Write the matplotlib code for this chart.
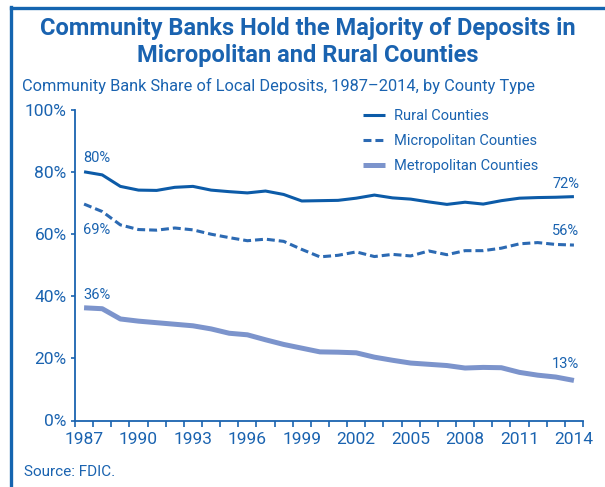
import matplotlib
matplotlib.use("Agg")
import matplotlib.pyplot as plt
from matplotlib import font_manager
from matplotlib.lines import Line2D

names = {f.name for f in font_manager.fontManager.ttflist}
FONT = [f for f in ["Liberation Sans Narrow", "Roboto", "DejaVu Sans"] if f in names]
plt.rcParams["font.family"] = FONT

years = list(range(1987, 2015))
rural = [80.1, 79.1, 75.4, 74.2, 74.1, 75.1, 75.4, 74.2, 73.7, 73.3, 73.9, 72.8, 70.7,
         70.8, 70.9, 71.6, 72.6, 71.7, 71.3, 70.4, 69.6, 70.3, 69.7, 70.8, 71.6, 71.8,
         71.9, 72.1]
micro = [69.7, 67.3, 63.0, 61.5, 61.3, 62.0, 61.4, 60.0, 58.9, 57.9, 58.4, 57.7, 55.1,
         52.7, 53.2, 54.3, 52.8, 53.5, 53.0, 54.6, 53.4, 54.7, 54.7, 55.5, 56.9, 57.3,
         56.7, 56.5]
metro = [36.3, 36.0, 32.7, 32.0, 31.5, 31.0, 30.5, 29.5, 28.1, 27.6, 26.0, 24.5, 23.3,
         22.1, 22.0, 21.8, 20.4, 19.4, 18.5, 18.1, 17.7, 16.9, 17.1, 17.0, 15.5, 14.6,
         14.0, 12.9]
series_names = ["Rural Counties", "Micropolitan Counties", "Metropolitan Counties"]
start_labels = ["80%", "69%", "36%"]
end_labels = ["72%", "56%", "13%"]
xtick_years = list(range(1987, 2015, 3))
yticks = [0, 20, 40, 60, 80, 100]

TXT = "#1a63b0"
C_RURAL = "#0c5ba8"
C_MICRO = "#2c6ab3"
C_METRO = "#7c94cc"

W, H = 605, 487
fig = plt.figure(figsize=(W / 100, H / 100), dpi=100)
fig.patch.set_facecolor("white")

# axes placement (pixels)
L, R, B, T = 75, 583, 420.5, 110
ax = fig.add_axes([L / W, 1 - B / H, (R - L) / W, (B - T) / H])

ax.plot(years, rural, color=C_RURAL, lw=2.2, solid_capstyle="butt", label=series_names[0])
ax.plot(years, micro, color=C_MICRO, lw=2.2, linestyle=(0, (2.6, 1.3)),
        dash_capstyle="butt", label=series_names[1])
ax.plot(years, metro, color=C_METRO, lw=3.6, solid_capstyle="butt", label=series_names[2])

ax.set_xlim(1986.5, 2014.5)
ax.set_ylim(0, 100)
ax.set_xticks(xtick_years)
ax.set_xticklabels([str(y) for y in xtick_years])
ax.set_xticks([y - 0.5 for y in years] + [2014.5], minor=True)
ax.tick_params(axis="x", which="major", length=0, pad=8, labelsize=12.5, labelcolor=TXT)
ax.tick_params(axis="x", which="minor", length=4, width=1.2, color=TXT, direction="out")
ax.set_yticks(yticks)
ax.set_yticklabels([f"{v}%" for v in yticks])
ax.tick_params(axis="y", length=3, width=1.2, color=TXT, pad=3, labelsize=12.5, labelcolor=TXT)
for s in ["top", "right"]:
    ax.spines[s].set_visible(False)
for s in ["left", "bottom"]:
    ax.spines[s].set_color(TXT)
    ax.spines[s].set_linewidth(1.3)
ax.set_facecolor("none")

# end labels
start_y = [84.5, 61.3, 40.4]
end_y = [76.3, 61.1, 18.2]
for lab, yv in zip(start_labels, start_y):
    ax.text(1986.95, yv, lab, ha="left", va="center", color=TXT, fontsize=10.5)
for lab, yv in zip(end_labels, end_y):
    ax.text(2014.3, yv, lab, ha="right", va="center", color=TXT, fontsize=10.5)

leg = ax.legend(loc="upper left", bbox_to_anchor=(363 / W, 1 - 109 / H),
                bbox_transform=fig.transFigure, frameon=False, fontsize=10.5,
                handlelength=1.5, handletextpad=0.6, labelspacing=0.75,
                borderpad=0, borderaxespad=0)
for t in leg.get_texts():
    t.set_color(TXT)

# titles
fig.text(308 / W, 1 - 35.5 / H, "Community Banks Hold the Majority of Deposits in",
         ha="center", va="baseline", color=TXT, fontsize=17, fontweight="bold")
fig.text(308 / W, 1 - 62 / H, "Micropolitan and Rural Counties",
         ha="center", va="baseline", color=TXT, fontsize=17, fontweight="bold")
fig.text(22 / W, 1 - 91 / H, "Community Bank Share of Local Deposits, 1987\u20132014, by County Type",
         ha="left", va="baseline", color=TXT, fontsize=11.8)
fig.text(24 / W, 1 - 476 / H, "Source: FDIC.", ha="left", va="baseline", color=TXT, fontsize=11)

# frame lines
fig.add_artist(Line2D([11.5 / W, 1], [1 - 7.5 / H, 1 - 7.5 / H], color="#1565b0", lw=2.4,
                      transform=fig.transFigure))
fig.add_artist(Line2D([11.5 / W, 11.5 / W], [0, 1 - 6.5 / H], color="#1565b0", lw=2.4,
                      transform=fig.transFigure))

fig.savefig("out.png", dpi=100, facecolor="white")
